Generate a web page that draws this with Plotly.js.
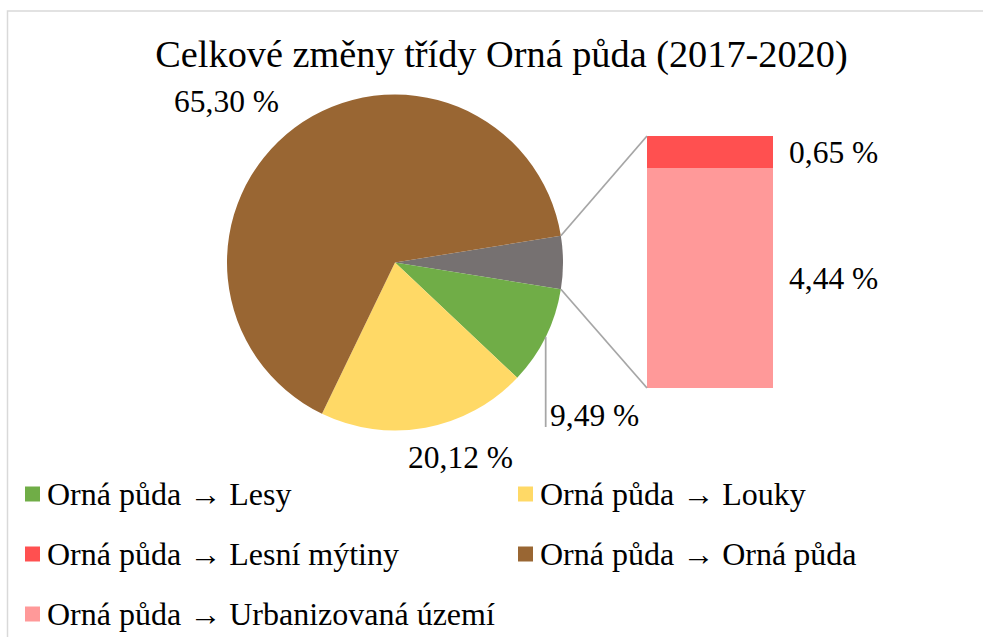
<!DOCTYPE html>
<html>
<head>
<meta charset="utf-8">
<script src="https://cdn.plot.ly/plotly-3.0.1.min.js"></script>
<style>
html, body { margin: 0; padding: 0; background: #ffffff; }
#chart { width: 983px; height: 637px; }
</style>
</head>
<body>
<div id="chart"></div>
<script>
// ---------- data ----------
const chartTitle = 'Celkové změny třídy Orná půda (2017-2020)';
const pieCategories = ['Orná půda → Lesy', 'Orná půda → Louky', 'Orná půda → Orná půda'];
const pieValues = [9.49, 20.12, 65.30];
const barCategories = ['Orná půda → Urbanizovaná území', 'Orná půda → Lesní mýtiny'];
const barValues = [4.44, 0.65];
const otherLabel = 'Ostatní';
const legendCategories = ['Orná půda → Lesy', 'Orná půda → Louky', 'Orná půda → Lesní mýtiny',
                          'Orná půda → Orná půda', 'Orná půda → Urbanizovaná území'];

// ---------- styles ----------
const colorMap = {
  'Orná půda → Lesy': '#70AD47',
  'Orná půda → Louky': '#FFD966',
  'Orná půda → Orná půda': '#996633',
  'Orná půda → Lesní mýtiny': '#FF5050',
  'Orná půda → Urbanizovaná území': '#FF9999'
};
const otherColor = '#767171';
const FONT = 'Liberation Serif';
const W = 983, H = 637;
const px = v => v / W;
const py = v => 1 - v / H;
const fmt = v => v.toFixed(2).replace('.', ',') + ' %';
const mkFont = (s) => ({ family: FONT, size: s, color: '#000000' });

// pie geometry (pixels)
const cx = 395, cy = 262.5, R = 168;
// bar geometry (pixels)
const barL = 647, barR = 773, barT = 136, barB = 388;

const otherValue = barValues.reduce((a, b) => a + b, 0);
const sliceValues = [otherValue].concat(pieValues);
const sliceLabels = [otherLabel].concat(pieCategories);
const total = sliceValues.reduce((a, b) => a + b, 0);
const halfOtherDeg = otherValue / total * 360 / 2;

const traces = [];
traces.push({
  type: 'pie',
  values: sliceValues,
  labels: sliceLabels,
  sort: false,
  direction: 'clockwise',
  rotation: 90 - halfOtherDeg,
  marker: { colors: [otherColor].concat(pieCategories.map(c => colorMap[c])), line: { width: 0 } },
  textinfo: 'none',
  hoverinfo: 'label+percent',
  showlegend: false,
  domain: { x: [px(cx - R), px(cx + R)], y: [py(cy + R), py(cy - R)] }
});
barCategories.forEach((c, i) => {
  traces.push({
    type: 'bar',
    name: c,
    x: [0],
    y: [barValues[i]],
    width: [1],
    marker: { color: colorMap[c], line: { width: 0 } },
    xaxis: 'x', yaxis: 'y',
    showlegend: false,
    hoverinfo: 'name+y'
  });
});

const shapes = [];
const annotations = [];

// chart border
shapes.push({ type: 'rect', xref: 'paper', yref: 'paper', x0: px(7.5), x1: 1.05, y0: -0.05, y1: py(11),
  line: { color: '#d9d9d9', width: 1.5 }, fillcolor: 'rgba(0,0,0,0)', layer: 'below' });

// connector lines from "other" slice to the bar
const rad = Math.PI / 180;
const ex = cx + R * Math.cos(halfOtherDeg * rad);
const eyTop = cy - R * Math.sin(halfOtherDeg * rad);
const eyBot = cy + R * Math.sin(halfOtherDeg * rad);
shapes.push({ type: 'line', xref: 'paper', yref: 'paper', x0: px(ex), y0: py(eyTop), x1: px(barL), y1: py(barT),
  line: { color: '#a6a6a6', width: 1.75 } });
shapes.push({ type: 'line', xref: 'paper', yref: 'paper', x0: px(ex), y0: py(eyBot), x1: px(barL), y1: py(barB),
  line: { color: '#a6a6a6', width: 1.75 } });

// leader line for the green slice label
const greenMid = -(halfOtherDeg + pieValues[0] / total * 360 / 2);
const gx = cx + R * Math.cos(greenMid * rad);
const gy = cy - R * Math.sin(greenMid * rad);
shapes.push({ type: 'line', xref: 'paper', yref: 'paper', x0: px(gx), y0: py(gy), x1: px(gx), y1: py(427),
  line: { color: '#a6a6a6', width: 1.75 } });

// pie data labels
const pieLabelPos = [
  { x: gx + 2, y: 416, anchor: 'left' },
  { x: 460.5, y: 457, anchor: 'center' },
  { x: 226.5, y: 101, anchor: 'center' }
];
pieValues.forEach((v, i) => {
  annotations.push({ xref: 'paper', yref: 'paper', x: px(pieLabelPos[i].x), y: py(pieLabelPos[i].y),
    xanchor: pieLabelPos[i].anchor, yanchor: 'middle', text: fmt(v), showarrow: false, font: mkFont(31.5) });
});

// bar data labels
let cum = 0;
barValues.forEach(v => {
  annotations.push({ xref: 'x', yref: 'y', x: 0.5, y: cum + v / 2, xanchor: 'left', yanchor: 'middle',
    xshift: 14, text: fmt(v), showarrow: false, font: mkFont(31.5) });
  cum += v;
});

// legend (2 columns)
const legCols = [25, 518];
legendCategories.forEach((c, i) => {
  const col = i % 2, row = Math.floor(i / 2);
  const yc = 494 + row * 60;
  const left = legCols[col];
  shapes.push({ type: 'rect', xref: 'paper', yref: 'paper', x0: px(left), x1: px(left + 15),
    y0: py(yc + 7.5), y1: py(yc - 7.5), line: { width: 0 }, fillcolor: colorMap[c] });
  annotations.push({ xref: 'paper', yref: 'paper', x: px(left + 20), y: py(yc), xanchor: 'left', yanchor: 'middle',
    text: c, showarrow: false, font: mkFont(32) });
});

const layout = {
  width: W, height: H,
  margin: { l: 0, r: 0, t: 0, b: 0 },
  paper_bgcolor: '#ffffff', plot_bgcolor: 'rgba(0,0,0,0)',
  font: { family: FONT, color: '#000000' },
  title: { text: chartTitle, font: mkFont(38.3),
    xref: 'container', yref: 'container', x: 501.5 / W, xanchor: 'center', y: py(53.5), yanchor: 'middle' },
  showlegend: false,
  barmode: 'stack',
  bargap: 0,
  xaxis: { domain: [px(barL), px(barR)], range: [-0.5, 0.5], visible: false, fixedrange: true },
  yaxis: { domain: [py(barB), py(barT)], range: [0, otherValue], visible: false, fixedrange: true },
  shapes: shapes,
  annotations: annotations
};

Plotly.newPlot('chart', traces, layout, { displayModeBar: false, staticPlot: true });
</script>
</body>
</html>
